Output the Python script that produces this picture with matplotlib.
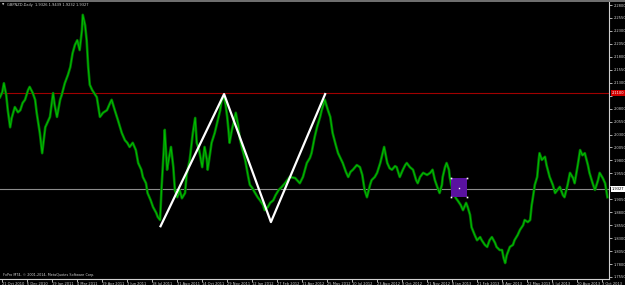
import matplotlib
matplotlib.use("Agg")

import matplotlib.pyplot as plt
from matplotlib.patches import Rectangle

# price trace (bar index, close)
bars = [
    0, 3, 5, 8, 10, 13, 15, 19, 23, 26, 29, 32, 36, 38, 42, 45, 47, 51, 54, 58,
    61, 64, 68, 70, 73, 77, 79, 83, 87, 90, 93, 96, 99, 102, 105, 106, 109, 111, 113, 115,
    118, 124, 128, 132, 137, 141, 143, 147, 151, 156, 160, 163, 166, 170, 174, 177, 181, 183, 187, 189,
    193, 196, 200, 202, 205, 207, 210, 211, 214, 216, 219, 222, 224, 227, 230, 233, 237, 239, 243, 247,
    250, 252, 255, 259, 262, 265, 266, 271, 275, 278, 282, 284, 287, 289, 291, 293, 294, 297, 300, 302,
    305, 307, 310, 314, 318, 320, 323, 326, 330, 333, 337, 339, 343, 346, 350, 353, 357, 361, 365, 371,
    378, 384, 388, 393, 397, 399, 403, 406, 410, 412, 416, 420, 423, 426, 430, 433, 437, 439, 443, 446,
    449, 452, 457, 461, 464, 465, 467, 470, 474, 476, 480, 483, 487, 489, 492, 496, 499, 502, 506, 508,
    512, 516, 519, 521, 525, 529, 533, 535, 538, 542, 547, 551, 554, 557, 560, 563, 566, 567, 570, 572,
    575, 576, 580, 584, 586, 590, 593, 597, 599, 602, 604, 608, 611, 615, 617, 621, 624, 627, 630, 634,
    636, 640, 643, 645, 647, 649, 653, 657, 659, 663, 666, 670, 672, 676, 679, 681, 682, 685, 688, 690,
    691, 694, 698, 700, 704, 708, 711, 714, 717, 721, 723, 727, 730, 734, 736, 740, 743, 746, 749, 753,
    755, 759, 762, 766, 768, 772, 775, 778,
]
closes = [
    2.102, 2.112, 2.129, 2.106, 2.077, 2.044, 2.062, 2.083, 2.073, 2.077, 2.091, 2.097, 2.116, 2.122, 2.110, 2.097, 2.072, 2.033, 1.994, 2.044,
    2.054, 2.064, 2.110, 2.087, 2.064, 2.097, 2.106, 2.129, 2.145, 2.160, 2.187, 2.203, 2.212, 2.193, 2.232, 2.261, 2.241, 2.212, 2.160, 2.126,
    2.116, 2.102, 2.064, 2.072, 2.077, 2.091, 2.097, 2.077, 2.058, 2.033, 2.019, 2.014, 2.006, 2.014, 2.000, 1.975, 1.962, 1.948, 1.936, 1.917,
    1.903, 1.890, 1.879, 1.871, 1.865, 1.929, 2.006, 2.039, 1.962, 1.981, 2.006, 1.967, 1.923, 1.909, 1.923, 1.907, 1.917, 1.952, 1.981, 2.033,
    2.062, 2.014, 2.000, 1.967, 2.006, 1.981, 1.962, 2.014, 2.033, 2.052, 2.077, 2.097, 2.102, 2.087, 2.064, 2.033, 2.014, 2.039, 2.058, 2.072,
    2.048, 2.023, 2.004, 1.981, 1.948, 1.933, 1.927, 1.919, 1.909, 1.903, 1.894, 1.884, 1.890, 1.898, 1.903, 1.913, 1.923, 1.929, 1.936, 1.948,
    1.946, 1.936, 1.948, 1.975, 1.985, 1.994, 2.025, 2.044, 2.064, 2.077, 2.097, 2.077, 2.064, 2.033, 2.010, 1.994, 1.981, 1.975, 1.958, 1.948,
    1.958, 1.962, 1.971, 1.967, 1.952, 1.942, 1.923, 1.909, 1.933, 1.942, 1.948, 1.956, 1.975, 1.987, 2.006, 1.975, 1.965, 1.962, 1.969, 1.967,
    1.948, 1.962, 1.971, 1.975, 1.967, 1.962, 1.942, 1.936, 1.948, 1.956, 1.952, 1.956, 1.962, 1.942, 1.929, 1.917, 1.933, 1.948, 1.967, 1.975,
    1.962, 1.948, 1.917, 1.907, 1.903, 1.894, 1.884, 1.898, 1.890, 1.875, 1.851, 1.836, 1.826, 1.832, 1.826, 1.817, 1.813, 1.826, 1.832, 1.821,
    1.813, 1.807, 1.807, 1.792, 1.782, 1.797, 1.813, 1.817, 1.826, 1.836, 1.846, 1.855, 1.865, 1.861, 1.865, 1.894, 1.903, 1.933, 1.948, 1.981,
    1.994, 1.981, 1.987, 1.971, 1.948, 1.933, 1.917, 1.923, 1.929, 1.913, 1.909, 1.933, 1.956, 1.946, 1.936, 1.971, 2.000, 1.990, 1.994, 1.971,
    1.956, 1.936, 1.923, 1.942, 1.956, 1.946, 1.936, 1.909,
]

# hand drawn zigzag and marked box
zigzag_bars = [205, 287, 347, 417]
zigzag_prices = [1.851, 2.108, 1.861, 2.110]
box_bars = [577, 598]
box_prices = [1.909, 1.946]

red_level = 2.110
bid_level = 1.9248
bid_text = "1.9327"
red_text = "2.1100"

price_ticks = [2.2800 - 0.025 * k for k in range(22)]
date_labels = [
    "21 Oct 2010", "6 Dec 2010", "19 Jan 2011", "4 Mar 2011", "19 Apr 2011",
    "3 Jun 2011", "18 Jul 2011", "31 Aug 2011", "14 Oct 2011", "29 Nov 2011",
    "12 Jan 2012", "27 Feb 2012", "11 Apr 2012", "25 May 2012", "10 Jul 2012",
    "23 Aug 2012", "8 Oct 2012", "21 Nov 2012", "8 Jan 2013", "21 Feb 2013",
    "8 Apr 2013", "22 May 2013", "5 Jul 2013", "20 Aug 2013", "3 Oct 2013",
]

AXIS_COLOR = "#d0d0d0"
FS = 2.6
W, H = 625, 285

fig = plt.figure(figsize=(W / 100, H / 100), dpi=100, facecolor="black")
ax = fig.add_axes([0, 6 / H, 609 / W, 277 / H], facecolor="black")

# price line: dark body + bright core
ax.plot(bars, closes, color="#007400", lw=1.9, zorder=3)
ax.plot(bars, closes, color="#00c000", lw=0.7, zorder=4)

ax.axhline(red_level, color="#a00000", lw=0.8, zorder=2)
ax.axhline(bid_level, color="#8c8c8c", lw=0.8, zorder=2)

ax.plot(zigzag_bars, zigzag_prices, color="white", lw=1.6, zorder=5,
        solid_capstyle="butt")

rect = Rectangle((box_bars[0], box_prices[0]), box_bars[1] - box_bars[0],
                 box_prices[1] - box_prices[0], facecolor="#5a12a0",
                 edgecolor="none", zorder=6)
ax.add_patch(rect)
for bx in box_bars:
    for by in box_prices:
        ax.plot(bx, by, marker="s", ms=1.2, color="white", mec="none", zorder=7)
ax.plot(sum(box_bars) / 2, sum(box_prices) / 2, marker="s", ms=1.0,
        color="white", mec="none", zorder=7)

ax.set_xlim(0, 780)
ax.set_ylim(1.7511, 2.2858)

for side in ["left", "top"]:
    ax.spines[side].set_visible(False)
for side in ["right", "bottom"]:
    ax.spines[side].set_color(AXIS_COLOR)
    ax.spines[side].set_linewidth(0.8)

# tick labels hidden behind the price tags
hidden = {7, 14}
ax.yaxis.tick_right()
ax.set_yticks(price_ticks)
ax.set_yticklabels(["" if k in hidden else f"{p:.4f}"
                    for k, p in enumerate(price_ticks)])
ax.tick_params(axis="y", colors=AXIS_COLOR, labelsize=FS, length=2,
               width=0.6, pad=1.2)

tick_bars = [3 + 32 * i for i in range(len(date_labels))]
ax.set_xticks(tick_bars)
ax.set_xticklabels(date_labels, ha="left")
ax.tick_params(axis="x", colors=AXIS_COLOR, labelsize=FS, length=2,
               width=0.6, pad=0.3)

# price tags on the right scale
ax.text(1.004, red_level, red_text, transform=ax.get_yaxis_transform(),
        fontsize=FS, color="white", va="center", ha="left", zorder=10,
        bbox=dict(boxstyle="square,pad=0.2", fc="#d00000", ec="none"),
        clip_on=False)
ax.text(1.004, bid_level, bid_text, transform=ax.get_yaxis_transform(),
        fontsize=FS, color="black", va="center", ha="left", zorder=10,
        bbox=dict(boxstyle="square,pad=0.2", fc="white", ec="none"),
        clip_on=False)

fig.text(2 / W, 1 - 5 / H, "\u25bc", color=AXIS_COLOR, fontsize=2.2,
         va="center", ha="left")
fig.text(7 / W, 1 - 5 / H, "GBPNZD,Daily  1.9326 1.9439 1.9232 1.9327",
         color=AXIS_COLOR, fontsize=FS, va="center", ha="left")
fig.text(3 / W, 1 - 275 / H, "FxPro MT4, \u00a9 2001-2014, MetaQuotes Software Corp.",
         color=AXIS_COLOR, fontsize=2.4, va="center", ha="left")

# thin grey strip along the top edge
fig.patches.append(Rectangle((0, 1 - 2 / H), 1, 2 / H, transform=fig.transFigure,
                             facecolor="#6e6e6e", edgecolor="none"))

fig.savefig("out.png", dpi=100, facecolor="black")
